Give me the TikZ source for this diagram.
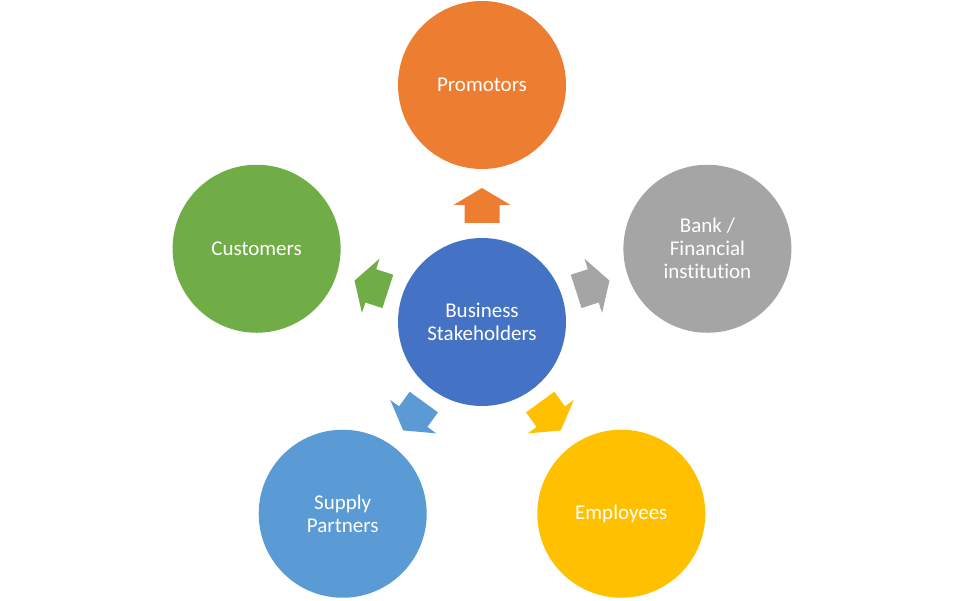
\documentclass[tikz,border=0pt]{standalone}
\usepackage{fontspec}
\setmainfont{Carlito}[Ligatures={NoCommon}]
\usetikzlibrary{calc}
\definecolor{cOrange}{HTML}{ED7D31}
\definecolor{cGreen}{HTML}{70AD47}
\definecolor{cGray}{HTML}{A5A5A5}
\definecolor{cBlue}{HTML}{4472C4}
\definecolor{cLBlue}{HTML}{5B9BD5}
\definecolor{cGold}{HTML}{FFC000}
\tikzset{
  bubble/.style={circle, minimum size=168pt, inner sep=0pt, text=white, align=center,
    font=\fontsize{21}{23}\selectfont}
}
\newcommand{\myblockarrow}[3]{%
  \begin{scope}[shift={(#1.center)}, rotate=#2]
    \fill[#3] (99,-17.5) -- (117,-17.5) -- (117,-28.5) -- (134,0) -- (117,28.5) -- (117,17.5) -- (99,17.5) -- cycle;
  \end{scope}}
\begin{document}
\begin{tikzpicture}[x=1pt, y=1pt]
\useasboundingbox (0,0) rectangle (965,600);
\fill[white] (0,0) rectangle (965,600);
\node[bubble, fill=cBlue] (c) at (482,278) {Business\\Stakeholders};
\node[bubble, fill=cOrange] (p) at ($(c.center)+(90:237)$) {Promotors};
\node[bubble, fill=cGreen] (cu) at ($(c.center)+(162:237)$) {Customers};
\node[bubble, fill=cGray] (b) at ($(c.center)+(18:237)$) {Bank /\\Financial\\institution};
\node[bubble, fill=cLBlue] (s) at ($(c.center)+(234:237)$) {Supply\\Partners};
\node[bubble, fill=cGold] (e) at ($(c.center)+(306:237)$) {Employees};
\myblockarrow{c}{90}{cOrange}
\myblockarrow{c}{162}{cGreen}
\myblockarrow{c}{18}{cGray}
\myblockarrow{c}{234}{cLBlue}
\myblockarrow{c}{306}{cGold}
\end{tikzpicture}
\end{document}
